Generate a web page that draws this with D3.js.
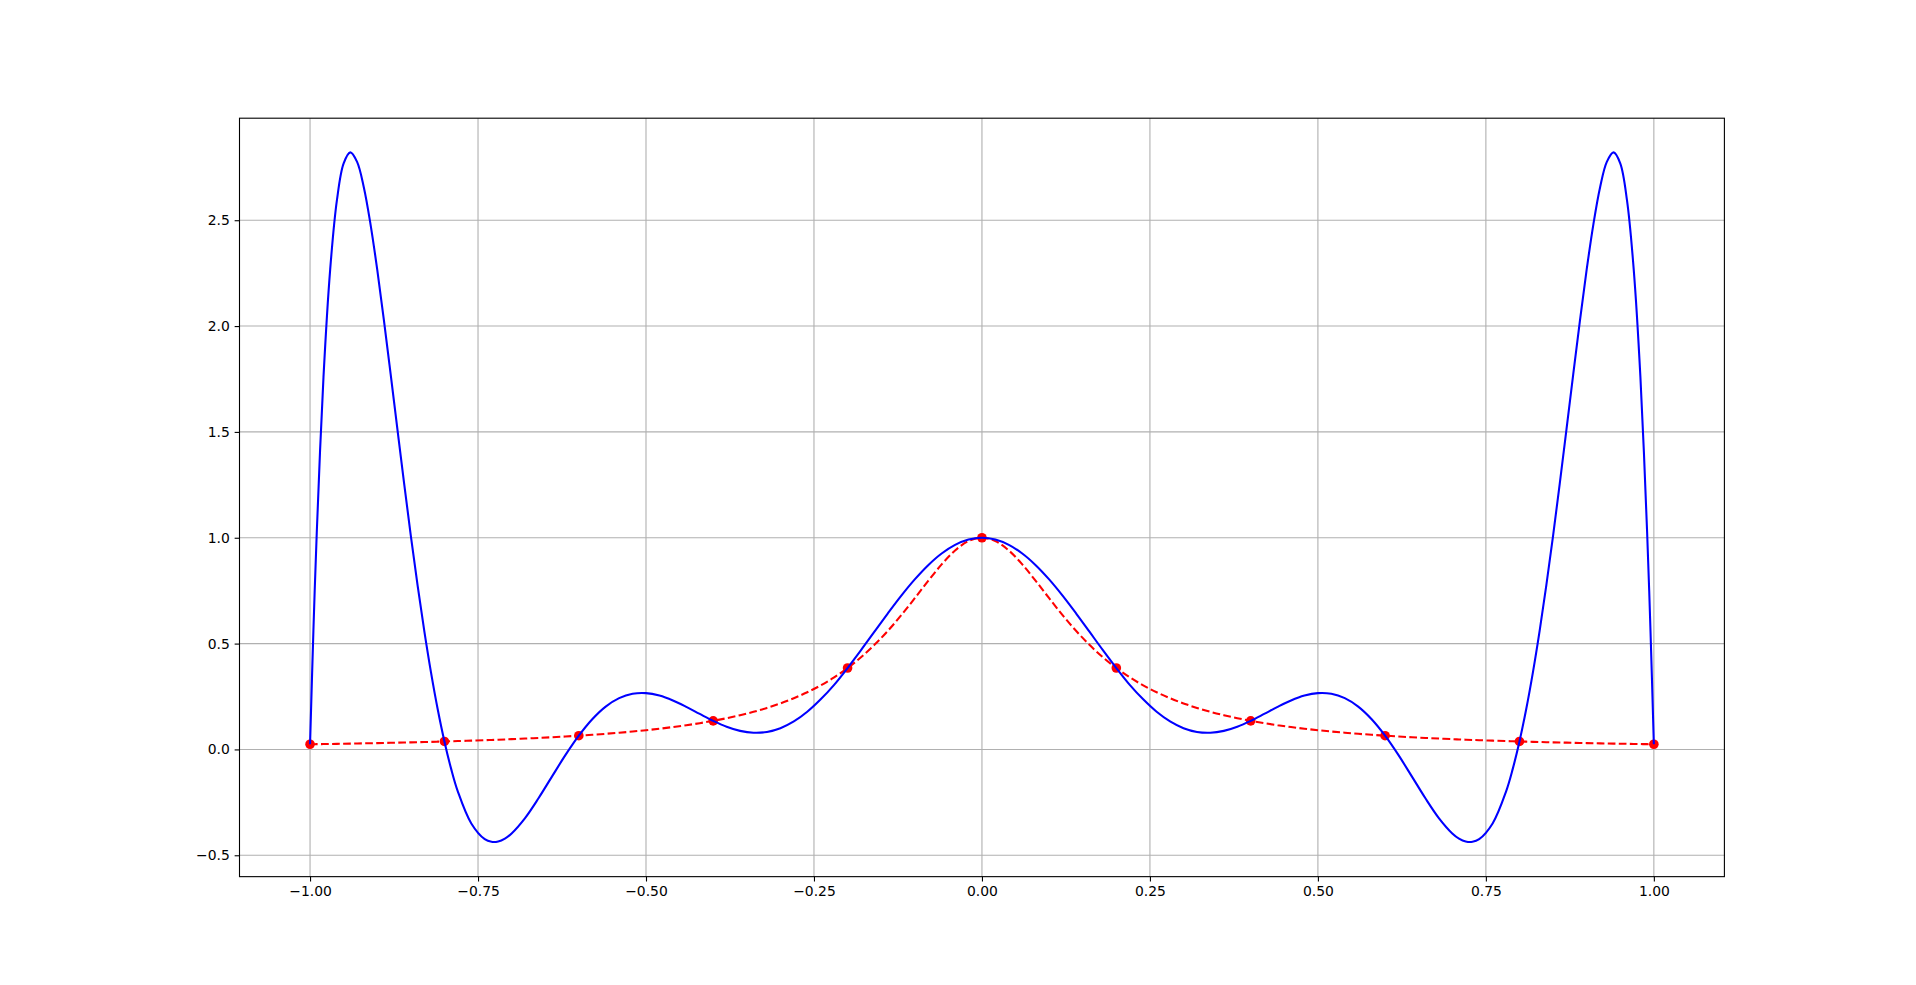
<!DOCTYPE html>
<html>
<head>
<meta charset="utf-8">
<script src="https://cdn.jsdelivr.net/npm/d3@7"></script>
<style>
  html, body { margin: 0; padding: 0; background: #ffffff; }
  svg { display: block; }
  .tick text { font-family: "DejaVu Sans", sans-serif; font-size: 13.9px; fill: #000; }
</style>
</head>
<body>
<svg id="chart" width="1916" height="985"></svg>
<script>
// ---- data ----
const xValues = [
  -1.00, -0.995, -0.99, -0.98, -0.97, -0.96, -0.95, -0.94, -0.93, -0.92, -0.91, -0.90,
  -0.89, -0.88, -0.87, -0.86, -0.85, -0.84, -0.83, -0.82, -0.81, -0.80, -0.79, -0.78,
  -0.76, -0.74, -0.73, -0.72, -0.71, -0.70, -0.68, -0.66, -0.64, -0.62, -0.60, -0.58, -0.56, -0.54,
  -0.52, -0.50, -0.48, -0.46, -0.44, -0.42, -0.40, -0.38, -0.36, -0.34, -0.32, -0.30,
  -0.28, -0.26, -0.24, -0.22, -0.20, -0.18, -0.16, -0.14, -0.12, -0.10, -0.08, -0.06,
  -0.04, -0.02, 0.00,
  0.02, 0.04, 0.06, 0.08, 0.10, 0.12, 0.14, 0.16, 0.18, 0.20, 0.22, 0.24,
  0.26, 0.28, 0.30, 0.32, 0.34, 0.36, 0.38, 0.40, 0.42, 0.44, 0.46, 0.48,
  0.50, 0.52, 0.54, 0.56, 0.58, 0.60, 0.62, 0.64, 0.66, 0.68, 0.70, 0.71, 0.72, 0.73,
  0.74, 0.76, 0.78, 0.79, 0.80, 0.81, 0.82, 0.83, 0.84, 0.85, 0.86, 0.87,
  0.88, 0.89, 0.90, 0.91, 0.92, 0.93, 0.94, 0.95, 0.96, 0.97, 0.98, 0.99,
  0.995, 1.00
];

// blue solid curve (interpolating polynomial)
const polyValues = [
  0.0244, 0.5608, 1.0247, 1.7586, 2.2693, 2.5948, 2.7687, 2.8204, 2.7754, 2.6559, 2.4807, 2.2662,
  2.0261, 1.7717, 1.5126, 1.2564, 1.0093, 0.7760, 0.5601, 0.3641, 0.1897, 0.0376, -0.0919, -0.1990,
  -0.3496, -0.4239, -0.4364, -0.4348, -0.4210, -0.3967, -0.3242, -0.2307, -0.1284, -0.0272, 0.0649, 0.1425, 0.2021, 0.2421,
  0.2629, 0.2661, 0.2544, 0.2314, 0.2011, 0.1677, 0.1351, 0.1074, 0.0876, 0.0787, 0.0824, 0.1001,
  0.1321, 0.1779, 0.2366, 0.3051, 0.3846, 0.4690, 0.5562, 0.6431, 0.7265, 0.8032, 0.8704, 0.9255,
  0.9663, 0.9915, 1.0000,
  0.9915, 0.9663, 0.9255, 0.8704, 0.8032, 0.7265, 0.6431, 0.5562, 0.4690, 0.3846, 0.3051, 0.2366,
  0.1779, 0.1321, 0.1001, 0.0824, 0.0787, 0.0876, 0.1074, 0.1351, 0.1677, 0.2011, 0.2314, 0.2544,
  0.2661, 0.2629, 0.2421, 0.2021, 0.1425, 0.0649, -0.0272, -0.1284, -0.2307, -0.3242, -0.3967, -0.4210, -0.4348, -0.4364,
  -0.4239, -0.3496, -0.1990, -0.0919, 0.0376, 0.1897, 0.3641, 0.5601, 0.7760, 1.0093, 1.2564, 1.5126,
  1.7717, 2.0261, 2.2662, 2.4807, 2.6559, 2.7754, 2.8204, 2.7687, 2.5948, 2.2693, 1.7586, 1.0247,
  0.5608, 0.0244
];

// red dashed curve (the function)
const funcValues = [
  0.0244, 0.0246, 0.0249, 0.0254, 0.0259, 0.0264, 0.0270, 0.0275, 0.0281, 0.0287, 0.0293, 0.0299,
  0.0306, 0.0313, 0.0320, 0.0327, 0.0334, 0.0342, 0.0350, 0.0358, 0.0367, 0.0376, 0.0385, 0.0395,
  0.0415, 0.0437, 0.0448, 0.0460, 0.0472, 0.0485, 0.0513, 0.0543, 0.0575, 0.0611, 0.0649, 0.0692, 0.0738, 0.0790,
  0.0846, 0.0909, 0.0979, 0.1057, 0.1144, 0.1241, 0.1351, 0.1476, 0.1617, 0.1778, 0.1962, 0.2174,
  0.2418, 0.2700, 0.3027, 0.3406, 0.3846, 0.4355, 0.4941, 0.5605, 0.6345, 0.7143, 0.7962, 0.8741,
  0.9398, 0.9843, 1.0000,
  0.9843, 0.9398, 0.8741, 0.7962, 0.7143, 0.6345, 0.5605, 0.4941, 0.4355, 0.3846, 0.3406, 0.3027,
  0.2700, 0.2418, 0.2174, 0.1962, 0.1778, 0.1617, 0.1476, 0.1351, 0.1241, 0.1144, 0.1057, 0.0979,
  0.0909, 0.0846, 0.0790, 0.0738, 0.0692, 0.0649, 0.0611, 0.0575, 0.0543, 0.0513, 0.0485, 0.0472, 0.0460, 0.0448,
  0.0437, 0.0415, 0.0395, 0.0385, 0.0376, 0.0367, 0.0358, 0.0350, 0.0342, 0.0334, 0.0327, 0.0320,
  0.0313, 0.0306, 0.0299, 0.0293, 0.0287, 0.0281, 0.0275, 0.0270, 0.0264, 0.0259, 0.0254, 0.0249,
  0.0246, 0.0244
];

// red node markers
const nodeX = [-1.0, -0.8, -0.6, -0.4, -0.2, 0.0, 0.2, 0.4, 0.6, 0.8, 1.0];
const nodeY = [0.0244, 0.0376, 0.0649, 0.1351, 0.3846, 1.0, 0.3846, 0.1351, 0.0649, 0.0376, 0.0244];

// tick labels
const xTicks = [-1.0, -0.75, -0.5, -0.25, 0.0, 0.25, 0.5, 0.75, 1.0];
const yTicks = [-0.5, 0.0, 0.5, 1.0, 1.5, 2.0, 2.5];

(function () {
  // ---- layout ----
  const W = 1916, H = 985;
  const pLeft = 0.125 * W, pRight = 0.9 * W, pTop = (1 - 0.88) * H, pBottom = (1 - 0.11) * H;

  const xMin = -1.105, xMax = 1.105;
  const yMin = -0.601, yMax = 2.982;

  const x = d3.scaleLinear().domain([xMin, xMax]).range([pLeft, pRight]);
  const y = d3.scaleLinear().domain([yMin, yMax]).range([pBottom, pTop]);

  const svg = d3.select("#chart");

  // grid
  const grid = svg.append("g");
  grid.selectAll("line.gx").data(xTicks).enter().append("line").attr("class", "gx")
    .attr("x1", d => x(d)).attr("x2", d => x(d))
    .attr("y1", pTop).attr("y2", pBottom)
    .attr("stroke", "#b0b0b0").attr("stroke-width", 1.1);
  grid.selectAll("line.gy").data(yTicks).enter().append("line").attr("class", "gy")
    .attr("x1", pLeft).attr("x2", pRight)
    .attr("y1", d => y(d)).attr("y2", d => y(d))
    .attr("stroke", "#b0b0b0").attr("stroke-width", 1.1);

  // clip
  svg.append("clipPath").attr("id", "clip").append("rect")
    .attr("x", pLeft).attr("y", pTop).attr("width", pRight - pLeft).attr("height", pBottom - pTop);

  const plot = svg.append("g").attr("clip-path", "url(#clip)");

  // markers
  plot.selectAll("circle").data(nodeX).enter().append("circle")
    .attr("cx", d => x(d)).attr("cy", (d, i) => y(nodeY[i]))
    .attr("r", 4.8).attr("fill", "#ff0000");

  const pts = (ys) => xValues.map((v, i) => [v, ys[i]]);
  const line = d3.line().x(d => x(d[0])).y(d => y(d[1])).curve(d3.curveCatmullRom.alpha(0.5));

  // red dashed
  plot.append("path").attr("d", line(pts(funcValues)))
    .attr("fill", "none").attr("stroke", "#ff0000").attr("stroke-width", 2.08)
    .attr("stroke-dasharray", "7.7,3.33");

  // blue solid
  plot.append("path").attr("d", line(pts(polyValues)))
    .attr("fill", "none").attr("stroke", "#0000ff").attr("stroke-width", 2.08)
    .attr("stroke-linejoin", "round");

  // axes
  const fmtX = d3.format(".2f");
  const fmtY = d3.format(".1f");
  const xAxis = d3.axisBottom(x).tickValues(xTicks).tickFormat(fmtX).tickSize(4.86).tickPadding(4.86).tickSizeOuter(0);
  const yAxis = d3.axisLeft(y).tickValues(yTicks).tickFormat(fmtY).tickSize(4.86).tickPadding(4.86).tickSizeOuter(0);

  const gx = svg.append("g").attr("transform", `translate(0,${pBottom})`).call(xAxis);
  const gy = svg.append("g").attr("transform", `translate(${pLeft},0)`).call(yAxis);
  [gx, gy].forEach(g => {
    g.select(".domain").remove();
    g.selectAll(".tick line").attr("stroke", "#000").attr("stroke-width", 1.1);
    g.selectAll(".tick text").attr("font-family", "DejaVu Sans").attr("font-size", "13.9px").attr("fill", "#000");
  });

  // spines
  svg.append("rect").attr("x", pLeft).attr("y", pTop)
    .attr("width", pRight - pLeft).attr("height", pBottom - pTop)
    .attr("fill", "none").attr("stroke", "#000").attr("stroke-width", 1.1);
})();
</script>
</body>
</html>
